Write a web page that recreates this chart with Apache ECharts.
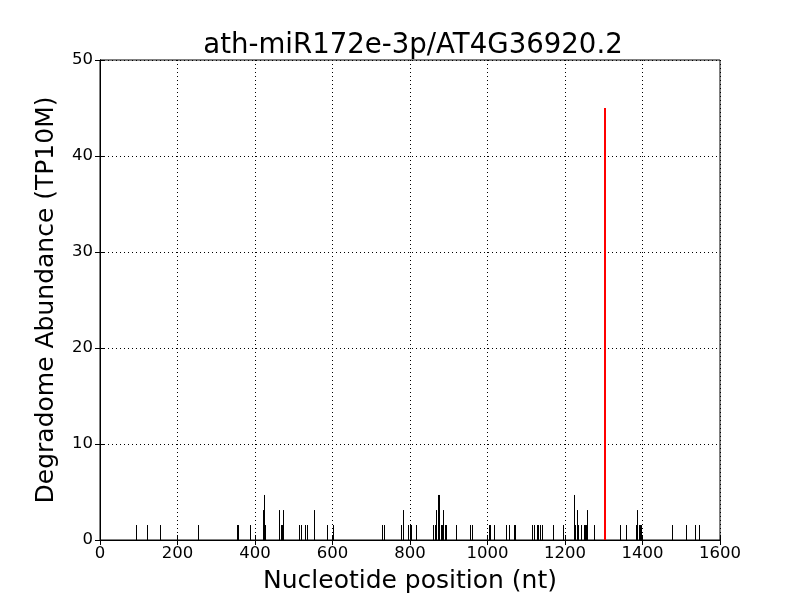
<!DOCTYPE html>
<html>
<head>
<meta charset="utf-8">
<script src="https://cdn.jsdelivr.net/npm/echarts@6/dist/echarts.min.js"></script>
<style>
  html, body { margin: 0; padding: 0; background: #fff; }
  #chart { width: 800px; height: 600px; }
</style>
</head>
<body>
<div id="chart"></div>
<script>
// degradome reads: nucleotide position and abundance (TP10M)
const positions = [
  92, 122, 156, 254, 354, 357, 387, 421, 424, 427,
  462, 466, 470, 473, 514, 518, 529, 533, 551, 553,
  586, 600, 729, 734, 777, 783, 794, 800, 803, 816,
  859, 864, 868, 873, 876, 879, 883, 886, 890, 894,
  919, 954, 959, 1004, 1007, 1017, 1048, 1056, 1068, 1072,
  1115, 1120, 1127, 1131, 1135, 1140, 1170, 1196, 1223, 1227,
  1230, 1233, 1241, 1249, 1252, 1254, 1258, 1276, 1343, 1358,
  1383, 1387, 1390, 1393, 1396, 1475, 1511, 1535, 1547
]
const abundance = [
  1.56, 1.56, 1.56, 1.56, 1.56, 1.56, 1.56, 3.12, 4.69, 1.56,
  3.12, 1.56, 1.56, 3.12, 1.56, 1.56, 1.56, 1.56, 3.12, 1.56,
  1.56, 1.56, 1.56, 1.56, 1.56, 3.12, 1.56, 1.56, 1.56, 1.56,
  1.56, 1.56, 3.12, 4.69, 4.69, 1.56, 1.56, 3.12, 1.56, 1.56,
  1.56, 1.56, 1.56, 1.56, 1.56, 1.56, 1.56, 1.56, 1.56, 1.56,
  1.56, 1.56, 1.56, 1.56, 1.56, 1.56, 1.56, 1.56, 4.69, 1.56,
  3.12, 1.56, 1.56, 1.56, 1.56, 1.56, 3.12, 1.56, 1.56, 1.56,
  1.56, 3.12, 1.56, 1.56, 1.56, 1.56, 1.56, 1.56, 1.56
]
// predicted miRNA cleavage site
const targetPos = [1303]
const targetVal = [45]

const xTicks = [0, 200, 400, 600, 800, 1000, 1200, 1400, 1600]
const yTicks = [0, 10, 20, 30, 40, 50]

const font = 'DejaVu Sans'

function stem(width) {
  return function (params, api) {
    const p0 = api.coord([api.value(0), 0])
    const p1 = api.coord([api.value(0), api.value(1)])
    const x = Math.round(p0[0]) + (width % 2 ? 0.5 : 0)
    return {
      type: 'line',
      shape: { x1: x, y1: p0[1], x2: x, y2: p1[1] },
      style: { stroke: api.visual('color'), lineWidth: width }
    }
  }
}

const tickAxis = {
  min: xTicks[0],
  max: xTicks[xTicks.length - 1],
  interval: 200,
  axisLine: { lineStyle: { color: '#000', width: 1 } },
  axisTick: { inside: true, length: 5, lineStyle: { color: '#000' } }
}
const tickLabel = { fontFamily: font, fontSize: 16.5, color: '#000', formatter: v => String(v) }

let mychart = echarts.init(document.getElementById('chart'))
mychart.setOption({
  animation: false,
  title: {
    text: 'ath-miR172e-3p/AT4G36920.2',
    left: 408,
    textAlign: 'center',
    top: 27,
    textStyle: { fontFamily: font, fontSize: 27.6, fontWeight: 'normal', color: '#000' }
  },
  grid: { left: 100, right: 80, top: 60, bottom: 60, show: true, borderColor: '#000', borderWidth: 1 },
  xAxis: [
    {
      ...tickAxis,
      type: 'value',
      position: 'bottom',
      name: 'Nucleotide position (nt)',
      nameLocation: 'middle',
      nameGap: 29,
      nameTextStyle: { fontFamily: font, fontSize: 25, color: '#000' },
      axisLabel: { ...tickLabel, margin: 5 },
      splitLine: { show: true, lineStyle: { color: '#000', type: [1, 3], width: 1 } }
    },
    { ...tickAxis, type: 'value', position: 'top', axisLabel: { show: false }, splitLine: { show: false } }
  ],
  yAxis: [
    {
      ...tickAxis,
      type: 'value',
      position: 'left',
      min: yTicks[0],
      max: yTicks[yTicks.length - 1],
      interval: 10,
      name: 'Degradome Abundance (TP10M)',
      nameLocation: 'middle',
      nameGap: 41,
      nameTextStyle: { fontFamily: font, fontSize: 25, color: '#000' },
      axisLabel: { ...tickLabel, margin: 7 },
      splitLine: { show: true, lineStyle: { color: '#000', type: [1, 3], width: 1 } }
    },
    {
      ...tickAxis,
      type: 'value',
      position: 'right',
      min: yTicks[0],
      max: yTicks[yTicks.length - 1],
      interval: 10,
      axisLabel: { show: false },
      splitLine: { show: false }
    }
  ],
  series: [
    {
      type: 'custom',
      xAxisIndex: 0,
      yAxisIndex: 0,
      color: '#000',
      renderItem: stem(1),
      data: positions.map((p, i) => [p, abundance[i]])
    },
    {
      type: 'custom',
      xAxisIndex: 0,
      yAxisIndex: 0,
      color: '#ff0000',
      renderItem: stem(2),
      data: targetPos.map((p, i) => [p, targetVal[i]])
    }
  ]
})
</script>
</body>
</html>
